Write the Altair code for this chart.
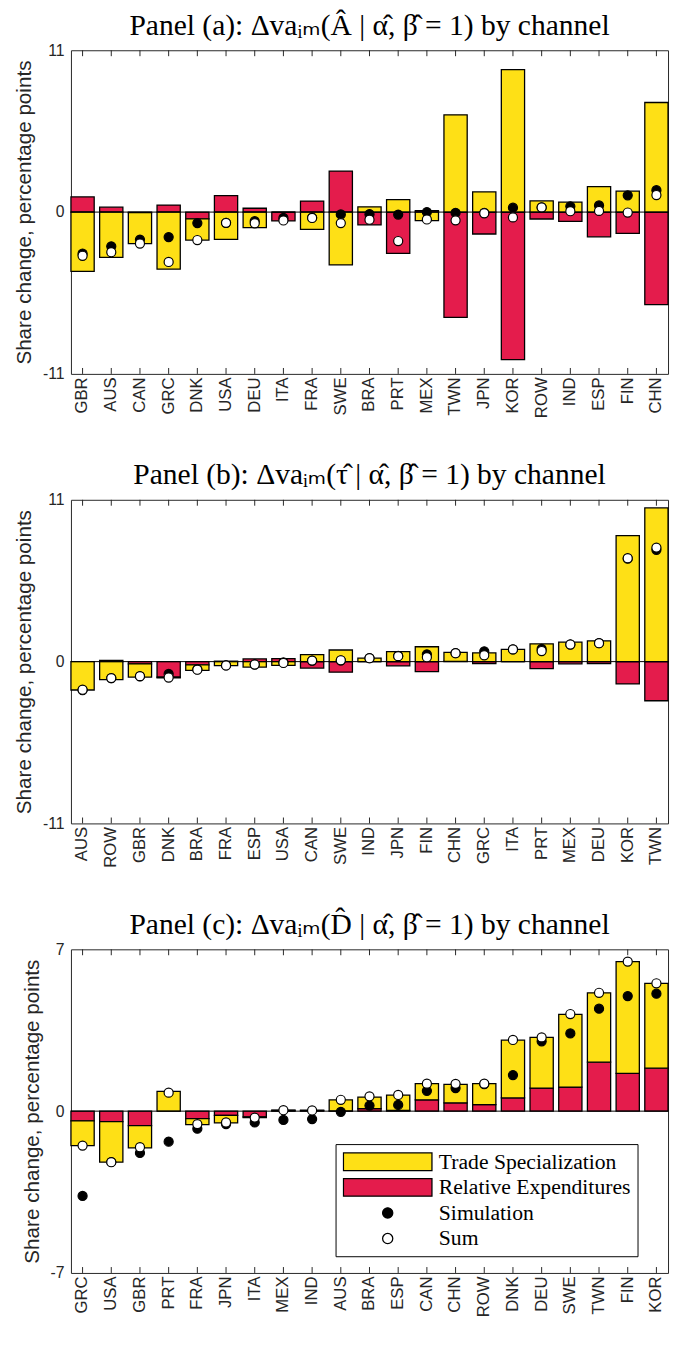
import altair as alt
import pandas as pd

SERIES = ["Trade Specialization", "Relative Expenditures", "Simulation", "Sum"]
FILLS = ["#FEE016", "#E41C4C", "#000000", "#FFFFFF"]
RECT = "M-1,-0.2H1V0.2H-1Z"
CIRC = "M-0.115,0A0.115,0.115 0 1,0 0.115,0A0.115,0.115 0 1,0 -0.115,0Z"

# ---------------- Panel (a) ----------------
countries_a = ["GBR", "AUS", "CAN", "GRC", "DNK", "USA", "DEU", "ITA", "FRA", "SWE", "BRA",
               "PRT", "MEX", "TWN", "JPN", "KOR", "ROW", "IND", "ESP", "FIN", "CHN"]
trade_a = [-4.03, -3.08, -2.10, -3.88, -1.44, -1.85, -1.06, 0.0, -1.17, -3.59, 0.36,
           0.85, -0.58, 6.61, 1.37, 9.69, 0.76, 0.67, 1.73, 1.42, 7.45]
relexp_a = [1.03, 0.33, -0.04, 0.48, -0.46, 1.12, 0.26, -0.60, 0.75, 2.79, -0.87,
            -2.80, 0.10, -7.16, -1.49, -10.03, -0.47, -0.63, -1.68, -1.44, -6.29]
sim_a = [-2.82, -2.33, -1.87, -1.70, -0.75, -0.73, -0.62, -0.40, -0.38, -0.16, -0.14,
         -0.17, 0.0, -0.05, -0.05, 0.30, 0.32, 0.39, 0.45, 1.14, 1.49]
sum_a = [-2.97, -2.73, -2.14, -3.39, -1.90, -0.73, -0.76, -0.57, -0.40, -0.75, -0.52,
         -1.97, -0.50, -0.56, -0.08, -0.36, 0.32, 0.06, 0.08, -0.03, 1.16]

# ---------------- Panel (b) ----------------
countries_b = ["AUS", "ROW", "GBR", "DNK", "BRA", "FRA", "ESP", "USA", "CAN", "SWE", "IND",
               "JPN", "FIN", "CHN", "GRC", "ITA", "PRT", "MEX", "DEU", "KOR", "TWN"]
trade_b = [-1.93, -1.22, -0.90, -0.05, -0.37, -0.28, -0.37, -0.26, 0.48, 0.79, 0.24,
           0.68, 1.01, 0.61, 0.59, 0.83, 1.21, 1.32, 1.41, 8.56, 10.45]
relexp_b = [0.0, 0.08, -0.15, -1.05, -0.22, 0.03, 0.18, 0.20, -0.44, -0.72, 0.0,
            -0.29, -0.68, 0.02, -0.13, 0.0, -0.48, -0.15, -0.13, -1.52, -2.66]
sim_b = [-1.93, -1.12, -1.00, -0.84, -0.52, -0.25, -0.18, -0.06, 0.07, 0.09, 0.23,
         0.39, 0.50, 0.58, 0.70, 0.83, 0.86, 1.17, 1.26, 7.00, 7.60]
sum_b = [-1.91, -1.12, -0.99, -1.08, -0.55, -0.26, -0.20, -0.09, 0.07, 0.09, 0.23,
         0.37, 0.30, 0.57, 0.43, 0.83, 0.72, 1.16, 1.25, 7.03, 7.75]

# ---------------- Panel (c) ----------------
countries_c = ["GRC", "USA", "GBR", "PRT", "FRA", "JPN", "ITA", "MEX", "IND", "AUS", "BRA",
               "ESP", "CAN", "CHN", "ROW", "DNK", "DEU", "SWE", "TWN", "FIN", "KOR"]
trade_c = [-1.07, -1.76, -0.96, 0.86, -0.26, -0.33, -0.03, 0.03, 0.02, 0.48, 0.50,
           0.66, 0.70, 0.80, 0.91, 2.50, 2.19, 3.15, 3.00, 4.84, 3.67]
relexp_c = [-0.42, -0.45, -0.63, 0.0, -0.32, -0.18, -0.25, 0.02, 0.02, 0.01, 0.11,
            0.03, 0.49, 0.36, 0.28, 0.57, 1.00, 1.04, 2.12, 1.63, 1.86]
sim_c = [-3.67, -2.20, -1.81, -1.32, -0.76, -0.56, -0.49, -0.38, -0.34, -0.03, 0.24,
         0.27, 0.88, 1.00, 1.17, 1.56, 3.02, 3.36, 4.43, 4.98, 5.08]
sum_c = [-1.49, -2.21, -1.56, 0.80, -0.56, -0.49, -0.28, 0.04, 0.03, 0.49, 0.64,
         0.70, 1.19, 1.18, 1.19, 3.08, 3.19, 4.20, 5.12, 6.47, 5.53]

TITLE_A = "Panel (a): \u0394va\u1d62\u2098(\u00c2 | \u03b1\u0302, \u03b2\u0302 = 1) by channel"
TITLE_B = "Panel (b): \u0394va\u1d62\u2098(\u03c4\u0302 | \u03b1\u0302, \u03b2\u0302 = 1) by channel"
TITLE_C = "Panel (c): \u0394va\u1d62\u2098(D\u0302 | \u03b1\u0302, \u03b2\u0302 = 1) by channel"

W, H = 607, 329
AXIS_COL = "#262626"
YT = "Share change, percentage points"
SHAPE_EXPR = ("(datum.value == 'Simulation' || datum.value == 'Sum') ? '" + CIRC + "' : '" + RECT + "'")


def panel(title, countries, trade, relexp, sim, sm, lim, show_legend):
    bar_rows = []
    for c, t, r in zip(countries, trade, relexp):
        bar_rows.append({"country": c, "series": "Relative Expenditures", "ord": 0, "value": r})
        bar_rows.append({"country": c, "series": "Trade Specialization", "ord": 1, "value": t})
    bars_df = pd.DataFrame(bar_rows)
    pt_rows = [{"country": c, "series": "Simulation", "value": v} for c, v in zip(countries, sim)]
    pt_rows += [{"country": c, "series": "Sum", "value": v} for c, v in zip(countries, sm)]
    pts_df = pd.DataFrame(pt_rows)
    zero_df = pd.DataFrame({"value": [0.0]})
    tick_df = pd.DataFrame({"country": countries})

    xscale = alt.Scale(domain=countries, paddingInner=0.19, paddingOuter=0)
    xaxis = alt.Axis(title=None, ticks=False, domain=False, labelAngle=270,
                     labelFont="Liberation Sans", labelFontSize=17, labelColor=AXIS_COL,
                     labelPadding=3)
    x = alt.X("country:N", scale=xscale, axis=xaxis)
    yscale = alt.Scale(domain=[-lim, lim], nice=False, zero=False)
    yaxis = alt.Axis(values=[-lim, 0, lim], labelExpr="datum.value + ''", ticks=False,
                     domain=False, grid=False, labelFont="Liberation Sans", labelFontSize=16,
                     labelColor=AXIS_COL, labelPadding=7,
                     titleFont="Liberation Sans", titleFontSize=21, titleFontWeight="normal",
                     titleColor=AXIS_COL, titlePadding=8)

    if show_legend:
        leg = alt.Legend(
            title=None, orient="none", legendX=269, legendY=198,
            direction="vertical", strokeColor="black", fillColor="white",
            padding=7, symbolType=alt.ExprRef(expr=SHAPE_EXPR), symbolSize=8100,
            clipHeight=22, symbolStrokeColor="black", symbolStrokeWidth=1.3,
            labelFont="Liberation Serif", labelFontSize=22, labelColor="black",
            labelOffset=6, rowPadding=4, labelLimit=400, cornerRadius=0,
        )
    else:
        leg = None

    fill_scale = alt.Scale(domain=SERIES, range=FILLS)

    bars = alt.Chart(bars_df).mark_bar(stroke="black", strokeWidth=1.3, opacity=1).encode(
        x=x,
        y=alt.Y("value:Q", stack="zero", scale=yscale, axis=yaxis, title=YT),
        fill=alt.Fill("series:N", scale=fill_scale, legend=leg),
        order=alt.Order("ord:Q"),
    )
    zero = alt.Chart(zero_df).mark_rule(color="black", strokeWidth=1).encode(
        y=alt.Y("value:Q", scale=yscale, axis=yaxis, title=YT)
    )
    ticks_bottom = alt.Chart(tick_df).mark_rule(color=AXIS_COL, strokeWidth=1).encode(
        x=x, y=alt.value(H), y2=alt.value(H - 6)
    )
    ticks_top = alt.Chart(tick_df).mark_rule(color=AXIS_COL, strokeWidth=1).encode(
        x=x, y=alt.value(0), y2=alt.value(6)
    )
    points = alt.Chart(pts_df).mark_point(filled=True, shape="circle", size=85, opacity=1,
                                          stroke="black", strokeWidth=1.2).encode(
        x=x,
        y=alt.Y("value:Q", stack=None, scale=yscale, axis=yaxis, title=YT),
        fill=alt.Fill("series:N", scale=fill_scale, legend=leg),
    )
    return alt.layer(bars, zero, ticks_bottom, ticks_top, points).properties(
        width=W, height=H,
        title=alt.TitleParams(title, font="Liberation Serif, DejaVu Sans", fontSize=30,
                              fontWeight="normal", color="black", anchor="middle",
                              frame="group", offset=2),
    )


pa = panel(TITLE_A, countries_a, trade_a, relexp_a, sim_a, sum_a, 11, False)
pb = panel(TITLE_B, countries_b, trade_b, relexp_b, sim_b, sum_b, 11, False)
pc = panel(TITLE_C, countries_c, trade_c, relexp_c, sim_c, sum_c, 7, True)

chart = alt.vconcat(pa, pb, pc, spacing=128, bounds="flush").properties(
    padding={"left": 5, "top": -9, "right": 0, "bottom": 0}
).configure_view(stroke=AXIS_COL, strokeWidth=1).resolve_scale(fill="independent")

chart.save("out.html", embed_options={"renderer": "svg", "actions": False})
